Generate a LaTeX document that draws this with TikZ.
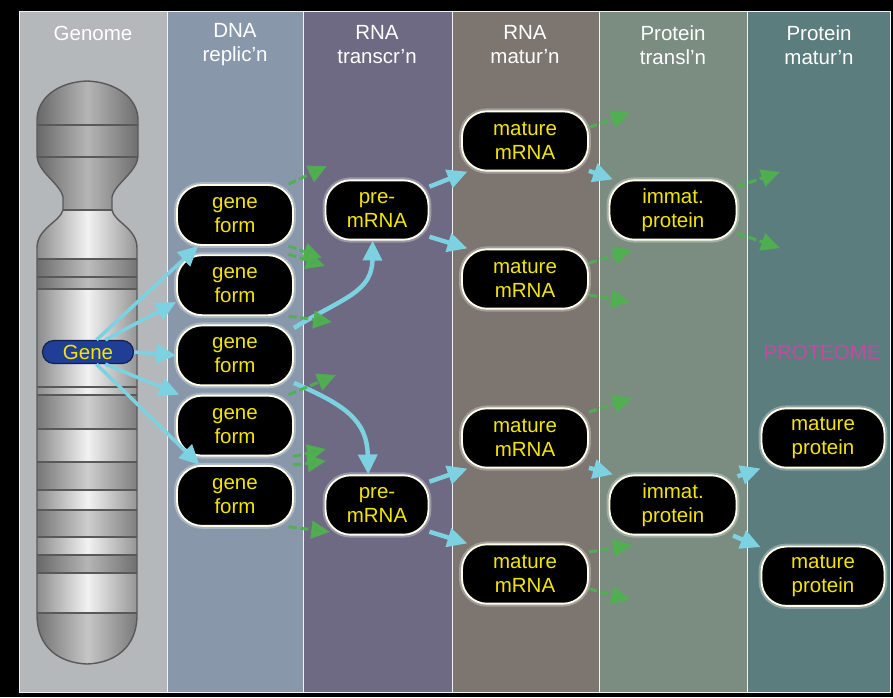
\documentclass[tikz,border=0pt]{standalone}
\usepackage{fontspec}
\setmainfont{Liberation Sans}
\definecolor{genomecol}{RGB}{180,184,187}
\definecolor{dnacol}{RGB}{136,152,170}
\definecolor{transcol}{RGB}{110,106,131}
\definecolor{rnacol}{RGB}{124,117,112}
\definecolor{translcol}{RGB}{122,141,128}
\definecolor{protcol}{RGB}{92,125,126}
\definecolor{flowcyan}{RGB}{125,210,225}
\definecolor{deadgreen}{RGB}{78,178,78}
\definecolor{labelyellow}{RGB}{242,230,0}
\definecolor{geneblue}{RGB}{32,62,150}
\definecolor{proteomecol}{RGB}{192,76,160}
\usetikzlibrary{shapes,arrows.meta,positioning,calc}

\begin{document}
\begin{tikzpicture}[x=0.03cm, y=-0.03cm,
    every node/.style={font=\fontsize{17.5}{20.5}\selectfont},
    stage/.style={draw=white!90!gray, line width=0.8pt},
    header/.style={text=white, align=center},
    form/.style={rectangle, rounded corners=0.75cm, draw=white!92!yellow, line width=1.6pt,
        preaction={draw=white, draw opacity=0.3, line width=5pt},
        fill=black, text=labelyellow, align=center, minimum height=1.78cm, inner sep=0pt},
    geneform/.style={form, minimum width=3.48cm, minimum height=1.8cm},
    premrna/.style={form, minimum width=3.09cm},
    maturerna/.style={form, minimum width=3.78cm},
    immat/.style={form, minimum width=3.81cm},
    matprot/.style={form, minimum width=3.69cm},
    flow/.style={-{Triangle[length=17pt,width=16pt]}, line width=3.8pt, color=flowcyan},
    deadend/.style={-{Triangle[length=16pt,width=15pt]}, line width=2.6pt,
        dash pattern=on 7pt off 3pt, color=deadgreen, opacity=0.9},
    band/.style={draw=black!65, line width=1pt}]

    % Stage columns
    \fill[black] (0,0) rectangle (893,697);
    \fill[genomecol] (19,11) rectangle (167,692);
    \fill[dnacol] (167,11) rectangle (303,692);
    \fill[transcol] (303,11) rectangle (452,692);
    \fill[rnacol] (452,11) rectangle (599,692);
    \fill[translcol] (599,11) rectangle (747,692);
    \fill[protcol] (747,11) rectangle (890,692);
    \draw[stage] (19,11) rectangle (890,692);
    \draw[stage] (167,11) -- (167,692) (303,11) -- (303,692) (452,11) -- (452,692)
        (599,11) -- (599,692) (747,11) -- (747,692);

    \node[header] (hgenome) at (93,33) {Genome};
    \node[header] (hdna) at (235,45) {DNA\\replic’n};
    \node[header] (htranscr) at (377,45) {RNA\\transcr’n};
    \node[header] (hrnamat) at (525,45) {RNA\\matur’n};
    \node[header] (htransl) at (673,45) {Protein\\transl’n};
    \node[header] (hprotmat) at (819,45) {Protein\\matur’n};

    % Chromosome
    \path[save path=\chromo] (87,81) .. controls (58,82) and (37,98) .. (37,120) -- (37,155)
        .. controls (37,172) and (60,183) .. (63,197) -- (63,210)
        .. controls (60,222) and (37,228) .. (37,248) -- (37,615)
        .. controls (37,648) and (60,663) .. (87,664)
        .. controls (114,663) and (137,648) .. (137,615) -- (137,248)
        .. controls (137,228) and (114,222) .. (112,210) -- (112,197)
        .. controls (115,183) and (138,172) .. (138,155) -- (138,120)
        .. controls (138,98) and (116,82) .. (87,81) -- cycle;
    \begin{scope}
        \clip[use path=\chromo];
        \shade[left color=black!45, right color=black!42, middle color=black!5] (37,75) rectangle (138,670);
        \fill[black, opacity=0.25] (30,75) rectangle (145,210);
        \fill[black, opacity=0.22] (30,259) rectangle (145,289);
        \fill[black, opacity=0.15] (30,395) rectangle (145,429);
        \fill[black, opacity=0.15] (30,462) rectangle (145,490);
        \fill[black, opacity=0.15] (30,510) rectangle (145,537);
        \fill[black, opacity=0.25] (30,555) rectangle (145,573);
        \fill[black, opacity=0.18] (30,613) rectangle (145,670);
        \foreach \yb in {125,157,210,259,277,289,387,395,429,462,490,510,537,555,573,613}
            \draw[band] (30,\yb) -- (145,\yb);
    \end{scope}
    \draw[black!65, line width=1.2pt, use path=\chromo];

    \node[rectangle, rounded corners=0.34cm, draw=geneblue!50!black, line width=1pt, fill=geneblue,
        text=labelyellow, minimum width=2.73cm, minimum height=0.69cm, inner sep=0pt] (gene) at (88,352) {Gene};

    % Gene forms
    \node[geneform] (gf1) at (235,215) {gene\\form};
    \node[geneform, below=0.25cm of gf1] (gf2) {gene\\form};
    \node[geneform, below=0.25cm of gf2] (gf3) {gene\\form};
    \node[geneform, below=0.25cm of gf3] (gf4) {gene\\form};
    \node[geneform, below=0.25cm of gf4] (gf5) {gene\\form};

    % Transcripts
    \node[premrna] (pm1) at (377,210) {pre-\\mRNA};
    \node[premrna] (pm2) at (377,505) {pre-\\mRNA};
    \node[maturerna] (mm1) at (525,141) {mature\\mRNA};
    \node[maturerna] (mm2) at (525,279) {mature\\mRNA};
    \node[maturerna] (mm3) at (525,438) {mature\\mRNA};
    \node[maturerna] (mm4) at (525,574) {mature\\mRNA};

    % Proteins
    \node[immat] (ip1) at (673,210) {immat.\\protein};
    \node[immat] (ip2) at (673,505) {immat.\\protein};
    \node[matprot] (mp1) at (823,438) {mature\\protein};
    \node[matprot, below=2.31cm of mp1] (mp2) {mature\\protein};
    \node[text=proteomecol] (proteome) at (822,352) {PROTEOME};

    % Productive path
    \draw[flow, line width=3pt] (gene.55) -- (gf1.220);
    \draw[flow, line width=3pt] (gene.35) -- (gf2.196);
    \draw[flow, line width=3pt] (gene.east) -- (gf3.west);
    \draw[flow, line width=3pt] (gene.-35) -- (gf4.151);
    \draw[flow, line width=3pt] (gene.-55) -- (gf5.139);
    \draw[flow] (gf3.25) .. controls (345,297) and (372,292) .. (pm1.262);
    \draw[flow] (gf3.-25) .. controls (345,405) and (367,420) .. (pm2.106);
    \draw[flow] (pm1.24) -- (mm1.208);
    \draw[flow] (pm1.-27) -- (mm2.152);
    \draw[flow] (pm2.24) -- (mm3.208);
    \draw[flow] (pm2.-27) -- (mm4.152);
    \draw[flow] (mm1.-25) -- (ip1.153);
    \draw[flow] (mm3.-25) -- (ip2.153);
    \draw[flow] (ip2.24) -- (mp1.206);
    \draw[flow] (ip2.-27) -- (mp2.155);

    % Dead ends
    \coordinate (lost1) at (327,166);
    \coordinate (lost2) at (322,258);
    \coordinate (lost3) at (325,266);
    \coordinate (lost4) at (332,322);
    \coordinate (lost5) at (336,375);
    \coordinate (lost6) at (326,449);
    \coordinate (lost7) at (326,461);
    \coordinate (lost8) at (330,532);
    \coordinate (lost9) at (630,113);
    \coordinate (lost10) at (632,250);
    \coordinate (lost11) at (630,302);
    \coordinate (lost12) at (632,398);
    \coordinate (lost13) at (632,545);
    \coordinate (lost14) at (630,600);
    \coordinate (lost15) at (780,172);
    \coordinate (lost16) at (780,248);
    \draw[deadend] (gf1.30) -- (lost1);
    \draw[deadend] (gf1.-30) -- (lost2);
    \draw[deadend] (gf2.30) -- (lost3);
    \draw[deadend] (gf2.-30) -- (lost4);
    \draw[deadend] (gf4.30) -- (lost5);
    \draw[deadend] (gf4.-28) -- (lost6);
    \draw[deadend] (gf5.28) -- (lost7);
    \draw[deadend] (gf5.-30) -- (lost8);
    \draw[deadend] (mm1.12) -- (lost9);
    \draw[deadend] (mm2.14) -- (lost10);
    \draw[deadend] (mm2.-14) -- (lost11);
    \draw[deadend] (mm3.22) -- (lost12);
    \draw[deadend] (mm4.19) -- (lost13);
    \draw[deadend] (mm4.-13) -- (lost14);
    \draw[deadend] (ip1.20) -- (lost15);
    \draw[deadend] (ip1.-20) -- (lost16);
\end{tikzpicture}
\end{document}
